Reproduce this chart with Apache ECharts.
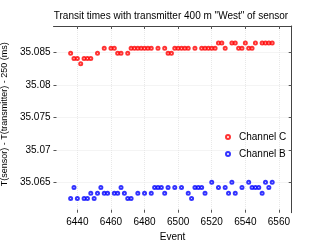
<!DOCTYPE html>
<html>
<head>
<meta charset="utf-8">
<script src="https://cdn.jsdelivr.net/npm/echarts@6/dist/echarts.min.js"></script>
<style>html,body{margin:0;padding:0;background:#fff}#c{width:322px;height:242px}</style>
</head>
<body>
<div id="c"></div>
<script>
var titleText = 'Transit times with transmitter 400 m "West" of sensor';
var xName = 'Event';
var yName = 'T(sensor) - T(transmitter) - 250 (ms)';
var xTicks = [6440, 6460, 6480, 6500, 6520, 6540, 6560];
var yTicks = [35.065, 35.07, 35.075, 35.08, 35.085];
var xRange = [6425.8, 6567.6];
var yRange = [35.06031, 35.08912];

var eventsC = [6436,6438,6440,6442,6444,6446,6448,6452,6456,6460,6462,6464,6466,6470,
  6472,6474,6476,6478,6480,6482,6484,6488,6492,6494,6496,6498,6500,6502,6504,6506,
  6510,6514,6516,6518,6520,6522,6524,6526,6528,6532,6534,6536,6538,6540,6542,6544,6546,
  6550,6552,6554,6556];
var valuesC = [35.0849,35.0841,35.0841,35.0833,35.0841,35.0841,35.0841,35.0849,35.0857,35.0857,35.0857,35.0849,35.0849,35.0849,
  35.0857,35.0857,35.0857,35.0857,35.0857,35.0857,35.0857,35.0857,35.0857,35.0849,35.0849,35.0857,35.0857,35.0857,35.0857,35.0857,
  35.0857,35.0857,35.0857,35.0857,35.0857,35.0857,35.0865,35.0865,35.0857,35.0865,35.0865,35.0857,35.0857,35.0865,35.0857,35.0857,35.0865,
  35.0865,35.0865,35.0865,35.0865];

var eventsB = [6436,6438,6440,6444,6446,6448,6450,6452,6454,6456,6458,6462,6464,6466,6468,6470,6472,
  6476,6480,6484,6486,6488,6490,6492,6494,6498,6502,6506,6508,6510,6512,6514,6516,6520,
  6524,6528,6530,6532,6534,6538,6542,6544,6546,6548,6550,6552,6554,6556];
var valuesB = [35.0625,35.0642,35.0625,35.0625,35.0625,35.0633,35.0625,35.0633,35.0642,35.0633,35.0633,35.0633,35.0633,35.0642,35.0633,35.0625,35.0625,
  35.0633,35.0633,35.0633,35.0642,35.0642,35.0642,35.0633,35.0642,35.0642,35.0642,35.0633,35.0625,35.0642,35.0642,35.0642,35.0633,35.0650,
  35.0642,35.0642,35.0633,35.0650,35.0633,35.0642,35.0650,35.0642,35.0642,35.0642,35.0633,35.0650,35.0642,35.0650];

function zip(a, b) { return a.map(function (v, i) { return [v, b[i]]; }); }

var FONT = 'Liberation Sans';
var chart = echarts.init(document.getElementById('c'), null, {renderer: 'canvas'});
var tickCommon = {show: true, inside: true, length: 3, lineStyle: {color: '#555', width: 1}};
chart.setOption({
  animation: false,
  backgroundColor: '#fff',
  title: {
    text: titleText, left: 166, top: 6, textAlign: 'center',
    textStyle: {fontFamily: FONT, fontSize: 10, fontWeight: 'normal', color: '#000'}
  },
  grid: {left: 53.5, right: 30.3, top: 26, bottom: 29.3, containLabel: false, outerBoundsMode: 'none'},
  legend: {
    data: ['Channel C', 'Channel B'], orient: 'vertical', left: 220, top: 127,
    itemWidth: 4, itemHeight: 4, itemGap: 7,
    textStyle: {fontFamily: FONT, fontSize: 10, color: '#000', padding: [0, 0, 0, 4]}
  },
  xAxis: [{
    type: 'value', min: xRange[0], max: xRange[1], position: 'bottom',
    name: xName, nameLocation: 'middle', nameGap: 17,
    nameTextStyle: {fontFamily: FONT, fontSize: 10, color: '#000'},
    axisLine: {show: false},
    axisTick: Object.assign({customValues: xTicks}, tickCommon),
    axisLabel: {customValues: xTicks, margin: 5, fontFamily: FONT, fontSize: 10, color: '#000',
      formatter: function (v) { return String(Math.round(v)); }},
    splitLine: {show: true, lineStyle: {color: '#e8e8e8', type: 'dotted'}}
  }, {
    type: 'value', min: xRange[0], max: xRange[1], position: 'top',
    axisLine: {show: true, lineStyle: {color: '#444', width: 1}},
    axisTick: Object.assign({customValues: xTicks}, tickCommon),
    axisLabel: {show: false}, splitLine: {show: false}
  }],
  yAxis: [{
    type: 'value', min: yRange[0], max: yRange[1], position: 'left',
    name: yName, nameLocation: 'middle', nameGap: 43,
    nameTextStyle: {fontFamily: FONT, fontSize: 9, color: '#000', padding: [0, 0, 0, 10]},
    axisLine: {show: false},
    axisTick: Object.assign({customValues: yTicks}, tickCommon),
    axisLabel: {customValues: yTicks, margin: 3, fontFamily: FONT, fontSize: 10, color: '#000',
      formatter: function (v) { return String(+v.toFixed(3)); }},
    splitLine: {show: true, lineStyle: {color: '#e8e8e8', type: 'dotted'}}
  }, {
    type: 'value', min: yRange[0], max: yRange[1], position: 'right',
    axisLine: {show: true, lineStyle: {color: '#444', width: 1}},
    axisTick: Object.assign({customValues: yTicks}, tickCommon),
    axisLabel: {show: false}, splitLine: {show: false}
  }],
  series: [{
    name: 'Channel C', type: 'scatter', symbol: 'emptyCircle', symbolSize: 3,
    itemStyle: {color: '#ff0000', borderWidth: 0.9},
    data: zip(eventsC, valuesC)
  }, {
    name: 'Channel B', type: 'scatter', symbol: 'emptyCircle', symbolSize: 3,
    itemStyle: {color: '#0000ff', borderWidth: 0.9},
    data: zip(eventsB, valuesB)
  }]
});
</script>
</body>
</html>
